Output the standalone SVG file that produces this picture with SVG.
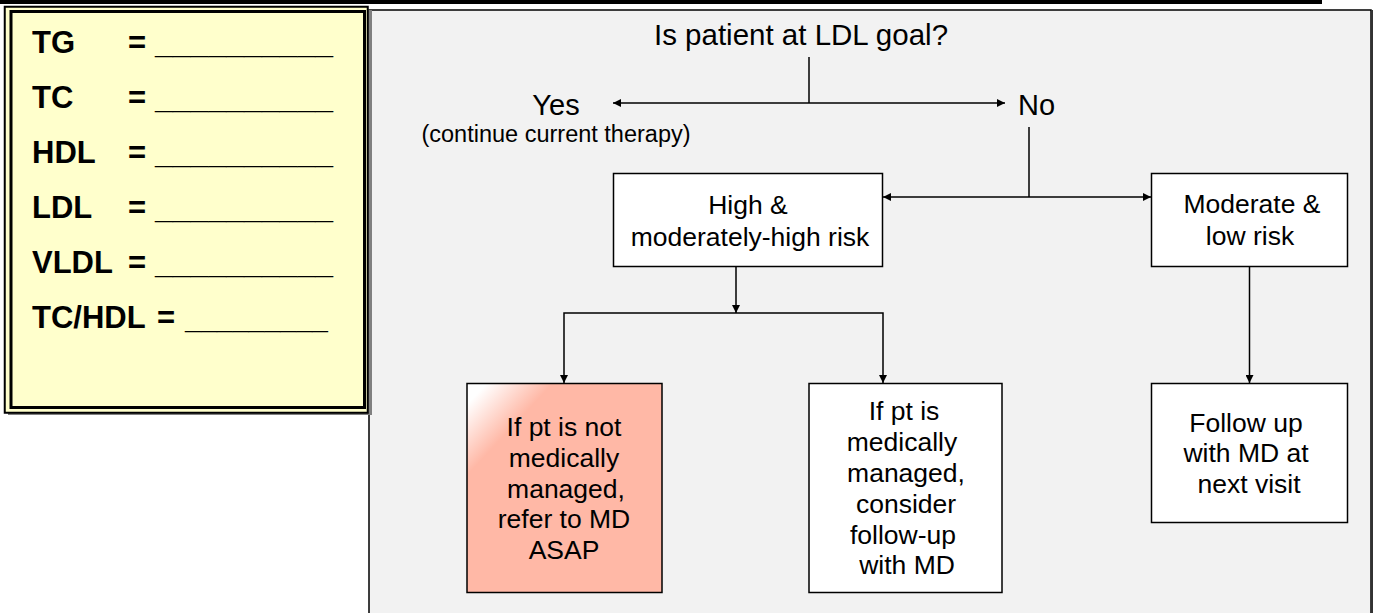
<svg xmlns="http://www.w3.org/2000/svg" width="1374" height="613" viewBox="0 0 1374 613">
<style>
.t{font-family:"Liberation Sans",Arial,sans-serif;fill:#000}
.b{font-weight:bold;font-size:31px}
.box{font-size:26.5px;text-anchor:middle}
.node{stroke:#000;stroke-width:1.5}
.c{stroke:#000;stroke-width:1.5;fill:none}
</style>
<defs>
<marker id="ah" viewBox="0 0 10 10" refX="10" refY="5" markerWidth="9" markerHeight="8" markerUnits="userSpaceOnUse" orient="auto-start-reverse">
<path d="M0,0 L10,5 L0,10 z" fill="#000"/>
</marker>
<linearGradient id="red" x1="0" y1="0" x2="1" y2="1" gradientUnits="objectBoundingBox">
<stop offset="0" stop-color="#ffffff"/>
<stop offset="0.05" stop-color="#ffffff"/>
<stop offset="0.22" stop-color="#ffb8a6"/>
<stop offset="1" stop-color="#ffb8a6"/>
</linearGradient>
</defs>
<rect width="1374" height="613" fill="#ffffff"/>
<rect x="0" y="0" width="1322" height="4" fill="#000"/>
<g id="panel">
<rect x="369" y="10" width="1002" height="620" fill="#f2f2f2" stroke="#000" stroke-width="1.5"/>
<line x1="1372" y1="10" x2="1372" y2="613" stroke="#333" stroke-width="2"/>
</g>
<g id="values">
<rect x="8" y="10" width="364" height="405" fill="#808080"/>
<rect x="4.75" y="6.75" width="363" height="406" fill="#ffffcc" stroke="#000" stroke-width="2"/>
<rect x="11" y="11.5" width="353.5" height="396" fill="#ffffcc" stroke="#000" stroke-width="3"/>
<text class="t b" x="32" y="53">TG</text><text class="t b" x="128" y="53">=</text><text class="t b" x="155" y="53" textLength="178" lengthAdjust="spacingAndGlyphs">__________</text>
<text class="t b" x="32" y="108">TC</text><text class="t b" x="128" y="108">=</text><text class="t b" x="155" y="108" textLength="178" lengthAdjust="spacingAndGlyphs">__________</text>
<text class="t b" x="32" y="163">HDL</text><text class="t b" x="128" y="163">=</text><text class="t b" x="155" y="163" textLength="178" lengthAdjust="spacingAndGlyphs">__________</text>
<text class="t b" x="32" y="218">LDL</text><text class="t b" x="128" y="218">=</text><text class="t b" x="155" y="218" textLength="178" lengthAdjust="spacingAndGlyphs">__________</text>
<text class="t b" x="32" y="273">VLDL</text><text class="t b" x="128" y="273">=</text><text class="t b" x="155" y="273" textLength="178" lengthAdjust="spacingAndGlyphs">__________</text>
<text class="t b" x="32" y="328">TC/HDL</text><text class="t b" x="157" y="328">=</text><text class="t b" x="185" y="328" textLength="143" lengthAdjust="spacingAndGlyphs">_________</text>
</g>
<g id="question">
<text class="t" x="801" y="45" font-size="29.5" text-anchor="middle">Is patient at LDL goal?</text>
</g>
<g id="yes">
<text class="t" x="556" y="115" font-size="29" text-anchor="middle">Yes</text>
<text class="t" x="556" y="142" font-size="23.5" text-anchor="middle">(continue current therapy)</text>
</g>
<g id="no">
<text class="t" x="1018" y="115" font-size="29">No</text>
</g>
<g id="high-risk">
<rect class="node" x="613.5" y="173.5" width="269" height="93" fill="#ffffff"/>
<text class="t box" x="748" y="214">High &amp;</text>
<text class="t box" x="750" y="246">moderately-high risk</text>
</g>
<g id="low-risk">
<rect class="node" x="1151.5" y="173.5" width="196" height="93" fill="#ffffff"/>
<text class="t box" x="1252" y="213">Moderate &amp;</text>
<text class="t box" x="1250" y="245">low risk</text>
</g>
<g id="refer">
<rect class="node" x="467" y="383.5" width="195" height="209" fill="url(#red)"/>
<text class="t box" x="564" y="436">If pt is not</text>
<text class="t box" x="564" y="467">medically</text>
<text class="t box" x="566" y="497.5">managed,</text>
<text class="t box" x="564" y="528">refer to MD</text>
<text class="t box" x="564" y="559">ASAP</text>
</g>
<g id="consider">
<rect class="node" x="809" y="383.5" width="193" height="209" fill="#ffffff"/>
<text class="t box" x="904" y="420">If pt is</text>
<text class="t box" x="902" y="451">medically</text>
<text class="t box" x="906" y="482">managed,</text>
<text class="t box" x="906" y="513">consider</text>
<text class="t box" x="903" y="544">follow-up</text>
<text class="t box" x="907" y="574">with MD</text>
</g>
<g id="follow-up">
<rect class="node" x="1151.5" y="383.5" width="196" height="139" fill="#ffffff"/>
<text class="t box" x="1246" y="432">Follow up</text>
<text class="t box" x="1246" y="462">with MD at</text>
<text class="t box" x="1249" y="493">next visit</text>
</g>
<g id="connectors">
<line class="c" x1="809" y1="57" x2="809" y2="103"/>
<line class="c" x1="613" y1="103" x2="1005" y2="103" marker-start="url(#ah)" marker-end="url(#ah)"/>
<line class="c" x1="1029" y1="127" x2="1029" y2="197"/>
<line class="c" x1="883" y1="197" x2="1151" y2="197" marker-start="url(#ah)" marker-end="url(#ah)"/>
<line class="c" x1="736" y1="267" x2="736" y2="313" marker-end="url(#ah)"/>
<polyline class="c" points="564,383 564,313 883,313 883,383" marker-start="url(#ah)" marker-end="url(#ah)"/>
<line class="c" x1="1249.5" y1="267" x2="1249.5" y2="383" marker-end="url(#ah)"/>
</g>
</svg>
